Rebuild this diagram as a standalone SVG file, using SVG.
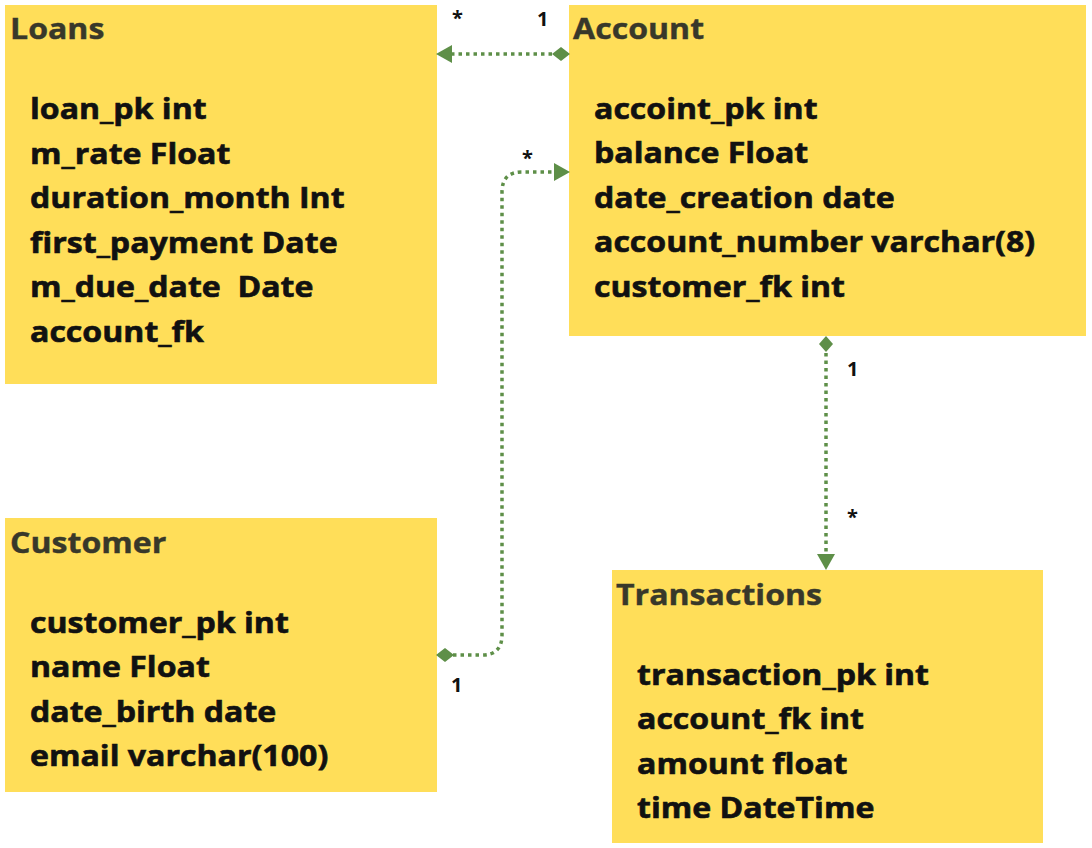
<svg xmlns="http://www.w3.org/2000/svg" width="1092" height="848" viewBox="0 0 1092 848">
<style>
.box{fill:#FFDE59}
.title{font-family:"Open Sans",sans-serif;font-weight:700;font-size:28px;fill:#38382a;stroke:#38382a;stroke-width:0.4}
.field{font-family:"Open Sans",sans-serif;font-weight:700;font-size:28px;fill:#111;stroke:#111;stroke-width:0.6}
.lbl{font-family:"Open Sans",sans-serif;font-weight:700;font-size:20px;fill:#111}
.conn{fill:none;stroke:#5e8f48;stroke-width:3.5;stroke-dasharray:3.5 4;}
.ar{fill:#5e8f48}
</style>
<g id="loans">
<rect class="box" x="5" y="5" width="432" height="379"/>
<g transform="translate(10,0) scale(1.146,1)"><text class="title" x="0" y="39">Loans</text></g>
<g transform="translate(30,0) scale(1.146,1)">
<text class="field" x="0" y="119">loan_pk int</text>
<text class="field" x="0" y="164">m_rate Float</text>
<text class="field" x="0" y="208">duration_month Int</text>
<text class="field" x="0" y="253">first_payment Date</text>
<text class="field" x="0" y="297" xml:space="preserve">m_due_date  Date</text>
<text class="field" x="0" y="342">account_fk</text>
</g>
</g>
<g id="account">
<rect class="box" x="569" y="5" width="517" height="331"/>
<g transform="translate(573,0) scale(1.146,1)"><text class="title" x="0" y="39">Account</text></g>
<g transform="translate(594,0) scale(1.146,1)">
<text class="field" x="0" y="119">accoint_pk int</text>
<text class="field" x="0" y="163">balance Float</text>
<text class="field" x="0" y="208">date_creation date</text>
<text class="field" x="0" y="252">account_number varchar(8)</text>
<text class="field" x="0" y="297">customer_fk int</text>
</g>
</g>
<g id="customer">
<rect class="box" x="5" y="518" width="432" height="274"/>
<g transform="translate(10,0) scale(1.146,1)"><text class="title" x="0" y="553">Customer</text></g>
<g transform="translate(30,0) scale(1.146,1)">
<text class="field" x="0" y="633">customer_pk int</text>
<text class="field" x="0" y="677">name Float</text>
<text class="field" x="0" y="722">date_birth date</text>
<text class="field" x="0" y="766">email varchar(100)</text>
</g>
</g>
<g id="transactions">
<rect class="box" x="612" y="570" width="431" height="273"/>
<g transform="translate(616,0) scale(1.146,1)"><text class="title" x="0" y="605">Transactions</text></g>
<g transform="translate(637,0) scale(1.146,1)">
<text class="field" x="0" y="685">transaction_pk int</text>
<text class="field" x="0" y="729">account_fk int</text>
<text class="field" x="0" y="774">amount float</text>
<text class="field" x="0" y="818">time DateTime</text>
</g>
</g>
<g id="connectors">
<path class="conn" d="M552,54 L451,54"/>
<path class="ar" d="M570,54 L561,47 L552,54 L561,61 z"/>
<path class="ar" d="M436,54 L452,45 L452,63 z"/>
<path class="conn" d="M453,655 L482,655 Q502,655 502,635 L502,192 Q502,172 522,172 L554,172"/>
<path class="ar" d="M436,655 L445,648 L454,655 L445,662 z"/>
<path class="ar" d="M570,172 L554,163 L554,181 z"/>
<path class="conn" d="M826,353 L826,555"/>
<path class="ar" d="M826,336 L833,344 L826,352 L819,344 z"/>
<path class="ar" d="M826,570 L817,554 L835,554 z"/>
<text class="lbl" x="452" y="25">*</text>
<text class="lbl" x="537" y="26">1</text>
<text class="lbl" x="522" y="165">*</text>
<text class="lbl" x="451" y="692">1</text>
<text class="lbl" x="847" y="376">1</text>
<text class="lbl" x="847" y="524">*</text>
</g>
</svg>
